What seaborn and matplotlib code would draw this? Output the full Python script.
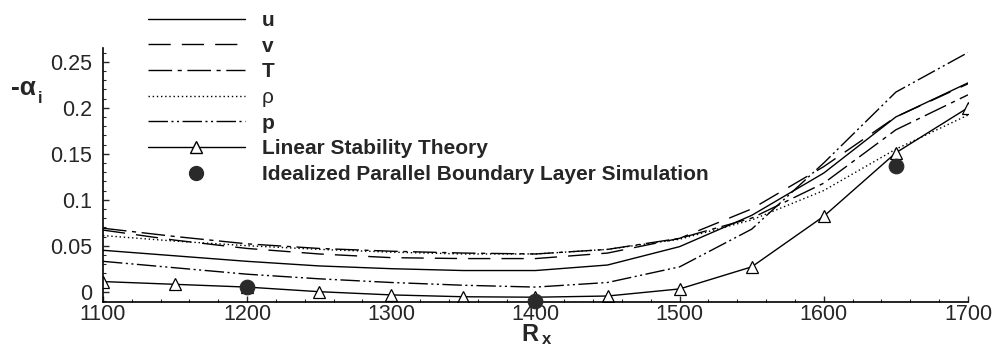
import matplotlib
matplotlib.use("Agg")
import matplotlib.pyplot as plt
import seaborn as sns
from matplotlib.ticker import MultipleLocator
from matplotlib.lines import Line2D

# values
rx = [1100, 1150, 1200, 1250, 1300, 1350, 1400, 1450, 1500, 1550, 1600, 1650, 1700]
u = [0.045, 0.039, 0.033, 0.028, 0.025, 0.023, 0.023, 0.029, 0.049, 0.083, 0.129, 0.190, 0.227]
v = [0.067, 0.056, 0.047, 0.041, 0.037, 0.036, 0.036, 0.042, 0.058, 0.090, 0.136, 0.190, 0.226]
T = [0.069, 0.060, 0.052, 0.047, 0.044, 0.042, 0.041, 0.046, 0.058, 0.080, 0.118, 0.176, 0.214]
rho = [0.061, 0.055, 0.050, 0.046, 0.043, 0.041, 0.041, 0.046, 0.057, 0.078, 0.110, 0.155, 0.192]
p = [0.033, 0.026, 0.019, 0.014, 0.010, 0.007, 0.005, 0.010, 0.027, 0.068, 0.140, 0.217, 0.260]
lst = [0.011, 0.008, 0.005, 0.000, -0.0035, -0.0055, -0.006, -0.0047, 0.003, 0.027, 0.082, 0.151, 0.200]
sim_rx = [1200, 1400, 1650]
sim = [0.0055, -0.010, 0.137]

sns.set_style("ticks")
plt.rcParams['font.family'] = ['Liberation Sans', 'DejaVu Sans']

fig = plt.figure(figsize=(9.94, 3.47), dpi=100)
ax = fig.add_axes([0.1036, 0.1305, 0.8702, 0.7303])

styles = {
    "u": (u, "-"),
    "v": (v, (0, (16, 8))),
    "T": (T, (0, (17, 4, 3, 4))),
    "ρ": (rho, (0, (1, 2))),
    "p": (p, (0, (14, 2.5, 1.5, 2.5, 1.5, 2.5))),
}
handles = []
for name, (vals, ls) in styles.items():
    sns.lineplot(x=rx, y=vals, ax=ax, color="black", lw=1, linestyle=ls)
    handles.append(Line2D([], [], color="black", lw=1, linestyle=ls, label=name))

sns.lineplot(x=rx, y=lst, ax=ax, color="black", lw=1, marker="^", markersize=8,
             markerfacecolor="white", markeredgecolor="black", markeredgewidth=0.9)
handles.append(Line2D([], [], color="black", lw=1, marker="^", markersize=8,
                      markerfacecolor="white", markeredgecolor="black",
                      label="Linear Stability Theory"))
sns.scatterplot(x=sim_rx, y=sim, ax=ax, color="#2a2a2a", s=110, edgecolor="#2a2a2a",
                zorder=5, clip_on=False)
handles.append(Line2D([], [], color="#2a2a2a", lw=0, marker="o", markersize=10,
                      label="Idealized Parallel Boundary Layer Simulation"))

ax.set_xlim(1100, 1700)
ax.set_ylim(-0.0109, 0.2646)
ax.xaxis.set_major_locator(MultipleLocator(100))
ax.xaxis.set_minor_locator(MultipleLocator(20))
ax.yaxis.set_minor_locator(MultipleLocator(0.01))
ax.set_yticks([0, 0.05, 0.1, 0.15, 0.2, 0.25])
ax.set_yticklabels(["0", "0.05", "0.1", "0.15", "0.2", "0.25"])
ax.tick_params(which="major", direction="in", length=4.5, width=1, labelsize=15.5, pad=2)
ax.tick_params(axis="y", which="major", pad=8)
ax.tick_params(which="minor", direction="in", length=2.5, width=0.8)
sns.despine(ax=ax)
for s in ["left", "bottom"]:
    ax.spines[s].set_linewidth(1.2)
    ax.spines[s].set_color("black")

leg = fig.legend(handles=handles, loc="upper left", bbox_to_anchor=(0.130, 1.022),
                 frameon=False, handlelength=4.65, handletextpad=0.8,
                 labelspacing=0.32, prop={"size": 15, "weight": "bold"})
leg.get_texts()[3].set_fontweight("normal")

fig.text(0.011, 0.745, "-α", fontsize=19, fontweight="bold", va="center", ha="left")
fig.text(0.0385, 0.715, "i", fontsize=12, fontweight="bold", va="center", ha="left")
fig.text(0.525, 0.037, "R", fontsize=17, fontweight="bold", va="center", ha="left")
fig.text(0.5455, 0.022, "x", fontsize=12, fontweight="bold", va="center", ha="left")

fig.savefig("out.png", dpi=100)
